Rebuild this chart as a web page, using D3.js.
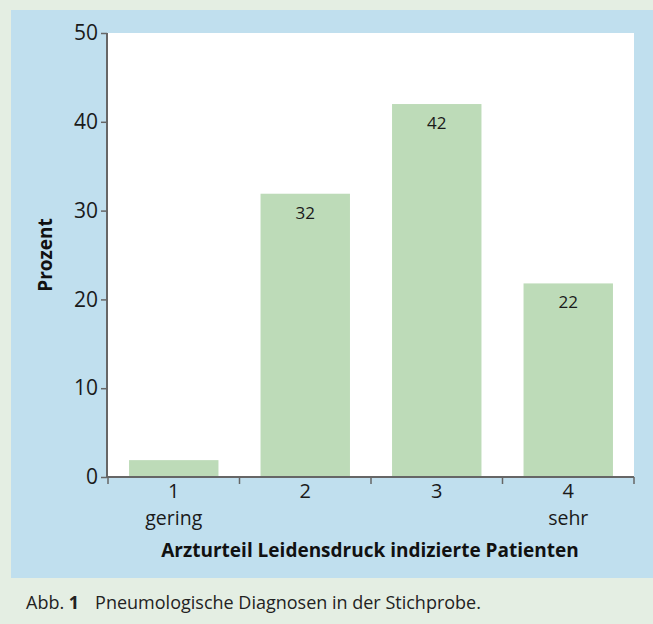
<!DOCTYPE html>
<html><head><meta charset="utf-8">
<script src="https://cdn.jsdelivr.net/npm/d3@7"></script>
<style>body{margin:0;background:#e4eee3;} svg{display:block;}</style>
</head><body>
<script>
const categories = ["1", "2", "3", "4"];
const subLabels = ["gering", "", "", "sehr"];
const values = [1.9, 31.9, 42, 21.8];
const barLabels = ["", "32", "42", "22"];
const yTicks = [0, 10, 20, 30, 40, 50];

const W = 653, H = 624;
const font = "'Open Sans', sans-serif";
const svg = d3.select("body").append("svg").attr("width", W).attr("height", H);
svg.append("rect").attr("width", W).attr("height", H).attr("fill", "#e4eee3");
svg.append("rect").attr("x", 11).attr("y", 10).attr("width", W - 11).attr("height", 568).attr("fill", "#c0dfee");

const x0 = 108, x1 = 634, yTop = 33, yBot = 477;
svg.append("rect").attr("x", x0).attr("y", yTop).attr("width", x1 - x0).attr("height", yBot - yTop).attr("fill", "#fff");

const x = d3.scaleBand().domain(categories).range([x0, x1]).paddingInner(0.32).paddingOuter(0.16);
const y = d3.scaleLinear().domain([0, 50]).range([yBot, yTop]);

svg.selectAll(".bar").data(values).join("rect")
  .attr("x", (d, i) => x(categories[i])).attr("width", x.bandwidth())
  .attr("y", d => y(d)).attr("height", d => y(0) - y(d)).attr("fill", "#bddbb8");

svg.selectAll(".bl").data(values).join("text")
  .attr("x", (d, i) => x(categories[i]) + x.bandwidth() / 2)
  .attr("y", d => y(d) + 25).attr("text-anchor", "middle")
  .attr("font-family", font).attr("font-size", 17).attr("fill", "#1a1a1a")
  .text((d, i) => barLabels[i]);

const axisCol = "#666";
// y axis
const ya = svg.append("g").attr("transform", `translate(${x0 - 1},0)`)
  .call(d3.axisLeft(y).tickValues(yTicks).tickSize(6).tickPadding(3));
ya.select(".domain").attr("stroke", axisCol).attr("stroke-width", 2).attr("d", `M0,${yTop}V${yBot}`);
ya.selectAll(".tick line").attr("stroke", axisCol).attr("stroke-width", 1.5);
ya.selectAll(".tick text").attr("font-family", font).attr("font-size", 21).attr("fill", "#1a1a1a");

// x axis
const step = x.step();
const bounds = categories.map((c, i) => x0 + i * step).concat([x1]);
svg.append("line").attr("x1", x0 - 2).attr("x2", x1).attr("y1", yBot).attr("y2", yBot)
  .attr("stroke", axisCol).attr("stroke-width", 2);
svg.selectAll(".xt").data(bounds).join("line")
  .attr("x1", d => d).attr("x2", d => d).attr("y1", yBot).attr("y2", yBot + 7)
  .attr("stroke", axisCol).attr("stroke-width", 1.5);
const xa = svg.append("g").attr("transform", `translate(0,${yBot})`)
  .call(d3.axisBottom(x).tickSize(0).tickPadding(7));
xa.select(".domain").remove();
xa.selectAll(".tick text").attr("font-family", font).attr("font-size", 20).attr("fill", "#1a1a1a");
svg.selectAll(".sub").data(subLabels).join("text")
  .attr("x", (d, i) => x(categories[i]) + x.bandwidth() / 2).attr("y", 525)
  .attr("text-anchor", "middle").attr("font-family", font).attr("font-size", 19.5).attr("fill", "#1a1a1a")
  .text(d => d);

svg.append("text").attr("x", (x0 + x1) / 2 - 1).attr("y", 557).attr("text-anchor", "middle")
  .attr("font-family", font).attr("font-weight", "bold").attr("font-size", 19).attr("fill", "#111")
  .text("Arzturteil Leidensdruck indizierte Patienten");
svg.append("text").attr("transform", "translate(52,255) rotate(-90)").attr("text-anchor", "middle")
  .attr("font-family", font).attr("font-weight", "bold").attr("font-size", 19).attr("fill", "#111")
  .text("Prozent");

const cap = svg.append("text").attr("x", 26).attr("y", 609).attr("font-family", font).attr("font-size", 18).attr("fill", "#222");
cap.append("tspan").text("Abb. ");
cap.append("tspan").attr("font-weight", "bold").text("1");
cap.append("tspan").attr("dx", 16).text("Pneumologische Diagnosen in der Stichprobe.");
</script>
</body></html>
